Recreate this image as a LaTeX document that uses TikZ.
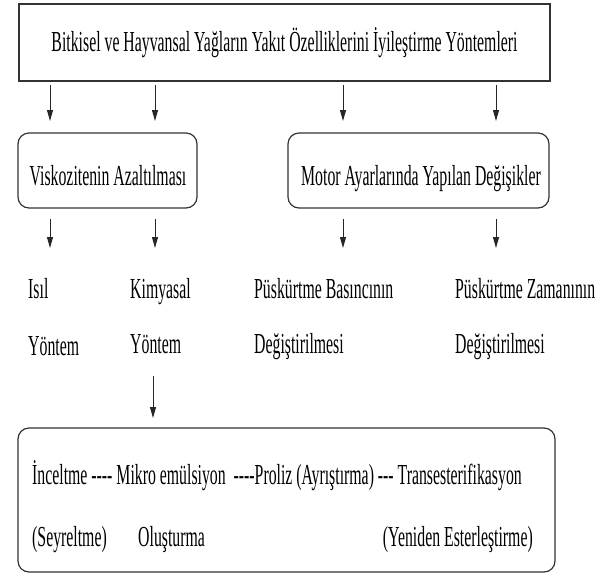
\documentclass[tikz,border=0pt]{standalone}
\usepackage{fontspec}
\setmainfont{Liberation Serif}[FakeStretch=0.545]
\usetikzlibrary{arrows.meta}
\begin{document}
\begin{tikzpicture}[x=1pt,y=-1pt,
  box/.style={draw=black!80,line width=1.2pt,inner sep=0pt,minimum width=#1},
  rbox/.style={box=#1,rounded corners=11pt},
  txt/.style={anchor=base west,inner sep=0pt,font=\fontsize{29}{33}\selectfont,text=black},
  ctxt/.style={txt,anchor=base},
  arr/.style={draw=black!85,line width=1pt,-{Triangle[length=11pt,width=6pt]}}]
\useasboundingbox (0,0) rectangle (599,576);
% boxes
\node[box=531pt,minimum height=77pt] (title) at (284.5,42.5) {};
\node[rbox=179pt,minimum height=75pt] (visk) at (107.5,170.5) {};
\node[rbox=261pt,minimum height=75pt] (motor) at (418.5,170.5) {};
\node[rbox=537pt,minimum height=144pt] (alt) at (286.5,500) {};
% texts
\node[ctxt] (ttitle) at (284.5,51) {Bitkisel ve Hayvansal Yağların Yakıt Özelliklerini İyileştirme Yöntemleri};
\node[ctxt] (tvisk) at (108,185) {Viskozitenin Azaltılması};
\node[ctxt] (tmotor) at (421,185) {Motor Ayarlarında Yapılan Değişikler};
\node[txt] (isil1) at (28,298) {Isıl};
\node[txt] (isil2) at (28,355) {Yöntem};
\node[txt] (kim1) at (130,298) {Kimyasal};
\node[txt] (kim2) at (130,353) {Yöntem};
\node[txt] (bas1) at (254,298) {Püskürtme Basıncının};
\node[txt] (bas2) at (254,353) {Değiştirilmesi};
\node[txt] (zam1) at (455,298) {Püskürtme Zamanının};
\node[txt] (zam2) at (455,353) {Değiştirilmesi};
\node[txt] (l1) at (32,484) {İnceltme\ -{}-{}-{}-\ Mikro emülsiyon\ \ -{}-{}-{}-Proliz (Ayrıştırma) -{}-{}- Transesterifikasyon};
\node[txt] (l2a) at (32,546) {(Seyreltme)};
\node[txt] (l2b) at (138,546) {Oluşturma};
\node[txt,anchor=base east] (l2c) at (533,546) {(Yeniden Esterleştirme)};
% arrow end points
\foreach \n/\x in {1/50,2/155,3/343,4/496}{
  \coordinate (a\n s) at (\x,85);
  \coordinate (a\n e) at (\x,121);
  \coordinate (b\n s) at (\x,219);
  \coordinate (b\n e) at (\x,248);
}
\coordinate (cs) at (153,376);
\coordinate (ce) at (153,418);
\foreach \n in {1,2,3,4}{
  \draw[arr] (a\n s) -- (a\n e);
  \draw[arr] (b\n s) -- (b\n e);
}
\draw[arr] (cs) -- (ce);
\end{tikzpicture}
\end{document}
